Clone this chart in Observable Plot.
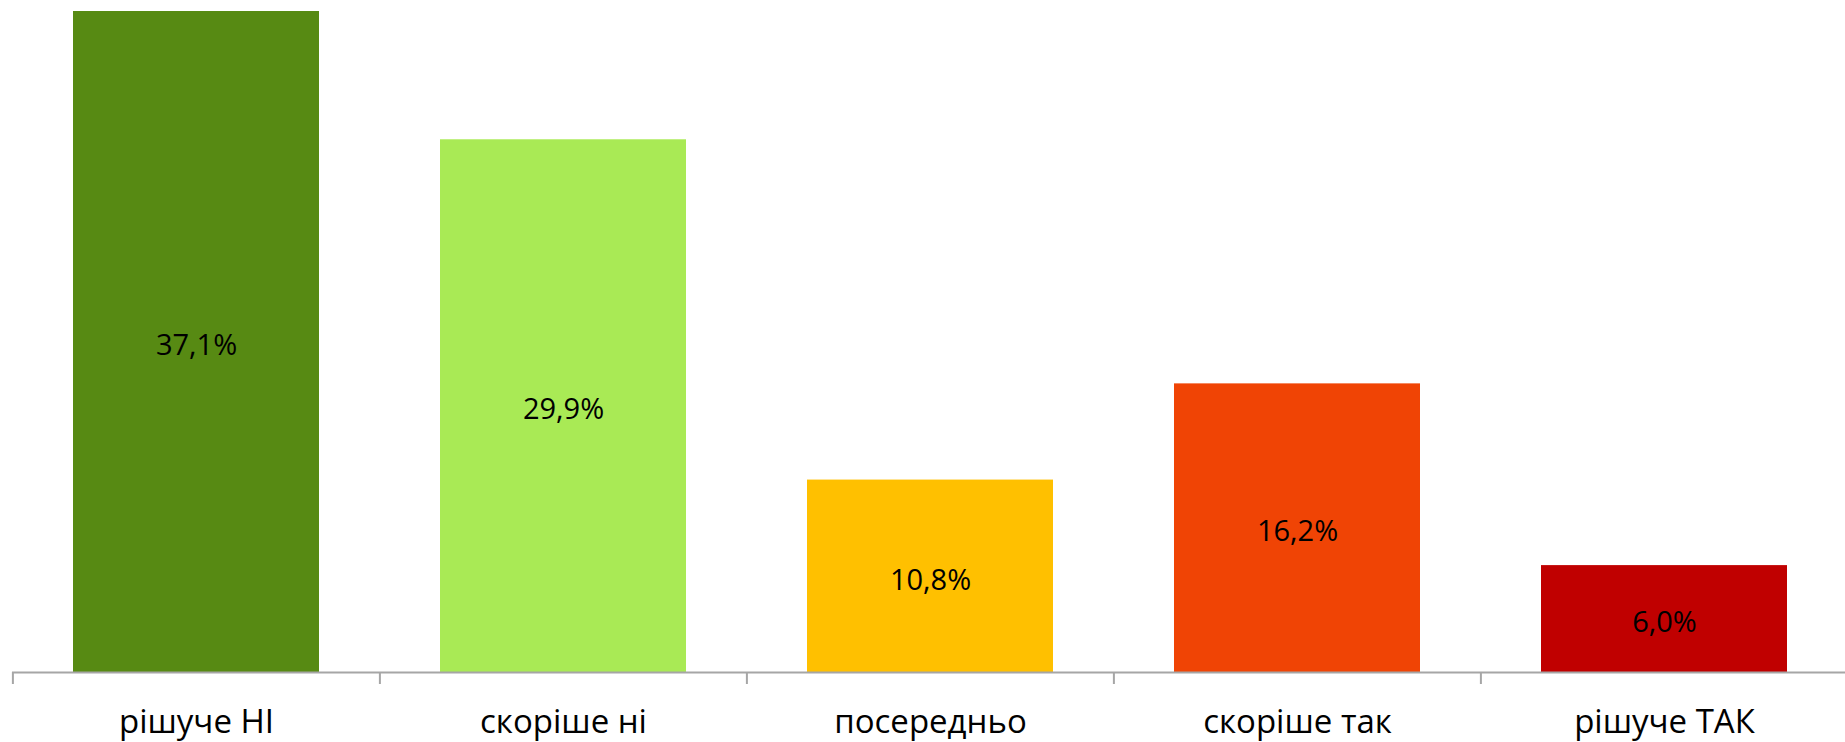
<!DOCTYPE html>
<html>
<head>
<meta charset="utf-8">
<script src="https://cdn.jsdelivr.net/npm/d3@7"></script>
<script src="https://cdn.jsdelivr.net/npm/@observablehq/plot@0.6"></script>
<style>
  html, body { margin: 0; padding: 0; background: #fff; overflow: hidden; }
</style>
</head>
<body>
<div id="chart"></div>
<script>
const categories = ["рішуче НІ", "скоріше ні", "посередньо", "скоріше так", "рішуче ТАК"];
const values = [37.1, 29.9, 10.8, 16.2, 6.0];
const labels = ["37,1%", "29,9%", "10,8%", "16,2%", "6,0%"];
const colors = ["#578A13", "#A9EA55", "#FFC000", "#F04405", "#C00000"];

const data = categories.map((c, i) => ({cat: c, value: values[i], label: labels[i]}));

const W = 1845, H = 742, mL = 12, mR = -3;
const step = (W - mL - mR) / categories.length;

const chart = Plot.plot({
  width: W,
  height: H,
  marginLeft: mL,
  marginRight: mR,
  marginTop: 11,
  marginBottom: 70,
  style: {fontFamily: "'Open Sans', sans-serif", background: "#fff", color: "#000", overflow: "hidden"},
  x: {domain: categories, paddingInner: 0.33, paddingOuter: 0.165, label: null},
  y: {domain: [0, d3.max(values)], axis: null},
  color: {domain: categories, range: colors},
  marks: [
    Plot.barY(data, {x: "cat", y: "value", fill: "cat"}),
    Plot.text(data, {x: "cat", y: d => d.value / 2, text: "label", fontSize: 29, dy: 4, fill: "#000"}),
    Plot.ruleY([0], {stroke: "#A6A6A6", strokeWidth: 2}),
    Plot.axisX({tickSize: 12, tickFormat: () => "", label: null, dx: -step / 2, stroke: "#A6A6A6", strokeWidth: 2, strokeOpacity: 1}),
    Plot.axisX({tickSize: 0, tickPadding: 37, fontSize: 33, label: null, fill: "#000"})
  ]
});
document.getElementById("chart").appendChild(chart);
</script>
</body>
</html>
